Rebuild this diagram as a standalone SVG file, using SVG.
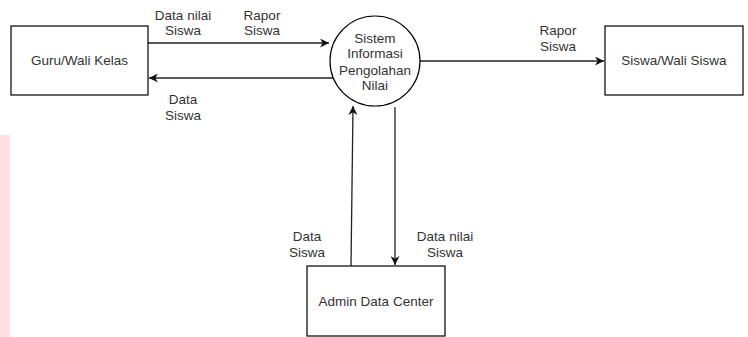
<svg xmlns="http://www.w3.org/2000/svg" width="748" height="337" viewBox="0 0 748 337">
<defs>
<style>
.box{fill:#fff;stroke:#000;stroke-width:1.2}
.t{font-family:"Liberation Sans",Arial,sans-serif;font-size:13.5px;fill:#333;text-anchor:middle}
.c{fill:none;stroke:#222;stroke-width:1.3}
</style>
<marker id="ah" viewBox="0 0 10 10" refX="10" refY="5" markerWidth="9" markerHeight="9" markerUnits="userSpaceOnUse" orient="auto">
<path d="M0,0 L10,5 L0,10 L3,5 Z" fill="#111"/>
</marker>
</defs>
<rect width="748" height="337" fill="#fff"/>
<rect x="0" y="135" width="10" height="202" fill="#fde0e0"/>
<g id="connectors">
<line class="c" x1="148" y1="43" x2="329" y2="43" marker-end="url(#ah)"/>
<line class="c" x1="333" y1="78" x2="149" y2="78" marker-end="url(#ah)"/>
<line class="c" x1="420" y1="61" x2="604" y2="61" marker-end="url(#ah)"/>
<line class="c" x1="351" y1="266" x2="353" y2="106" marker-end="url(#ah)"/>
<line class="c" x1="395" y1="107" x2="395" y2="265" marker-end="url(#ah)"/>
<text class="t" x="183" y="20">Data nilai</text>
<text class="t" x="183" y="35">Siswa</text>
<text class="t" x="262" y="20">Rapor</text>
<text class="t" x="262" y="35">Siswa</text>
<text class="t" x="183" y="104">Data</text>
<text class="t" x="183" y="120">Siswa</text>
<text class="t" x="558" y="35">Rapor</text>
<text class="t" x="558" y="51">Siswa</text>
<text class="t" x="307" y="241">Data</text>
<text class="t" x="307" y="257">Siswa</text>
<text class="t" x="445" y="241">Data nilai</text>
<text class="t" x="445" y="257">Siswa</text>
</g>
<g id="guru">
<rect class="box" x="11" y="26" width="137" height="69"/>
<text class="t" x="79.5" y="65">Guru/Wali Kelas</text>
</g>
<g id="sistem">
<circle class="box" cx="375" cy="61" r="45" stroke="#333"/>
<text class="t" x="375" y="43">Sistem</text>
<text class="t" x="375" y="58">Informasi</text>
<text class="t" x="375" y="75">Pengolahan</text>
<text class="t" x="375" y="90">Nilai</text>
</g>
<g id="siswa">
<rect class="box" x="605" y="26" width="138" height="69"/>
<text class="t" x="674" y="65">Siswa/Wali Siswa</text>
</g>
<g id="admin">
<rect class="box" x="307" y="266" width="138" height="70"/>
<text class="t" x="376" y="306">Admin Data Center</text>
</g>
</svg>
